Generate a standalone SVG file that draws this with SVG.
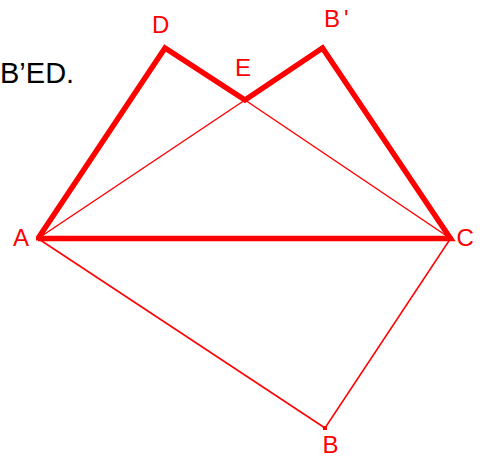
<svg xmlns="http://www.w3.org/2000/svg" width="484" height="457" viewBox="0 0 484 457">
<style>
.thin{stroke:#ff0000;stroke-width:1.5;fill:none}
.thick{stroke:#ff0000;stroke-width:5.5;fill:none;stroke-linejoin:miter}
.lbl{font-family:"Liberation Sans",Arial,sans-serif;font-size:24px;fill:#ff0000}
.pt{fill:#ff0000}
.cap{font-family:"Liberation Sans",Arial,sans-serif;font-size:29px;fill:#000000}
</style>
<rect width="484" height="457" fill="#ffffff"/>
<text class="cap" x="0" y="83">B’ED.</text>
<g id="connectors">
<line class="thin" x1="38" y1="238.5" x2="245" y2="100"/>
<line class="thin" x1="245" y1="100" x2="450.5" y2="238.5"/>
<line class="thin" x1="38" y1="238.5" x2="325" y2="428"/>
<line class="thin" x1="325" y1="428" x2="450.5" y2="238.5"/>
<polyline class="thick" points="38,238.5 165,48 245,100 322.5,48 450.5,238.5 38,238.5"/>
</g>
<g id="A"><rect class="pt" x="36" y="236.5" width="4" height="4"/><text class="lbl" x="13" y="246">A</text></g>
<g id="C"><rect class="pt" x="448.5" y="236.5" width="4" height="4"/><text class="lbl" x="456.5" y="246">C</text></g>
<g id="D"><rect class="pt" x="163" y="46" width="4" height="4"/><text class="lbl" x="152" y="33">D</text></g>
<g id="E"><rect class="pt" x="243" y="98" width="4" height="4"/><text class="lbl" x="235" y="76">E</text></g>
<g id="Bp"><rect class="pt" x="320.5" y="46" width="4" height="4"/><text class="lbl" x="324" y="27">B<tspan dx="4">'</tspan></text></g>
<g id="B"><rect class="pt" x="323" y="426" width="4" height="4"/><text class="lbl" x="322.5" y="453">B</text></g>
</svg>
